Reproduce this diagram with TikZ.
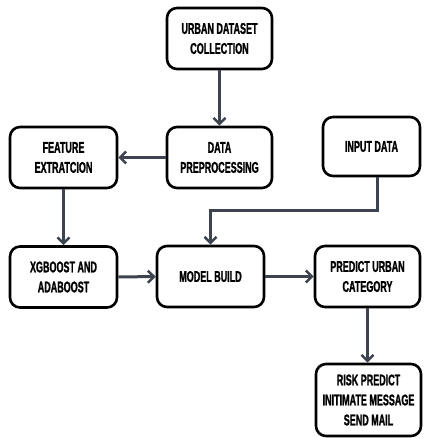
\documentclass[tikz,border=0pt]{standalone}
\usepackage{fontspec}
\newfontfamily\boxfont{Liberation Sans}[FakeStretch=0.58, FakeBold=1.2]
\usetikzlibrary{arrows.meta}
\definecolor{arrowc}{RGB}{61,68,80}
\tikzset{
  box/.style={draw=black, line width=2.6pt, rounded corners=10pt, fill=white,
    minimum width=105pt, minimum height=61pt, align=center, inner sep=2pt,
    font=\boxfont\bfseries\fontsize{15.5}{20}\selectfont},
  conn/.style={draw=arrowc, line width=3pt, -{Straight Barb[length=6pt,width=12pt,line width=2.5pt]}}
}
\begin{document}
\begin{tikzpicture}[x=1pt,y=-1pt]
\useasboundingbox[fill=white] (0,0) rectangle (424,438);
\node[box] (urban) at (219.5,38.5) {URBAN DATASET\\COLLECTION};
\node[box] (prep) at (219.5,157.5) {DATA\\PREPROCESSING};
\node[box, minimum width=107pt] (feat) at (63.5,157.5) {FEATURE\\EXTRATCION};
\node[box, minimum width=107pt] (xgb) at (63.5,277) {XGBOOST AND\\ADABOOST};
\node[box, minimum width=107pt] (model) at (210.5,276.5) {MODEL BUILD};
\node[box] (pred) at (367.5,276.5) {PREDICT URBAN\\CATEGORY};
\node[box, minimum width=97pt, minimum height=59pt] (input) at (371.5,146.5) {INPUT DATA};
\node[box, minimum height=72pt] (risk) at (368.5,400) {RISK PREDICT\\INITIMATE MESSAGE\\SEND MAIL};
\coordinate (bend) at (377,210);
\draw[conn] (urban) -- (prep);
\draw[conn] (prep) -- (feat);
\draw[conn] (feat) -- (xgb);
\draw[conn] (xgb) -- (model);
\draw[conn] (model) -- (pred);
\draw[conn] (pred.south) -- (risk.north -| pred.south);
\draw[conn] (input.south -| bend) -- (bend) -| (model.north);
\end{tikzpicture}
\end{document}
